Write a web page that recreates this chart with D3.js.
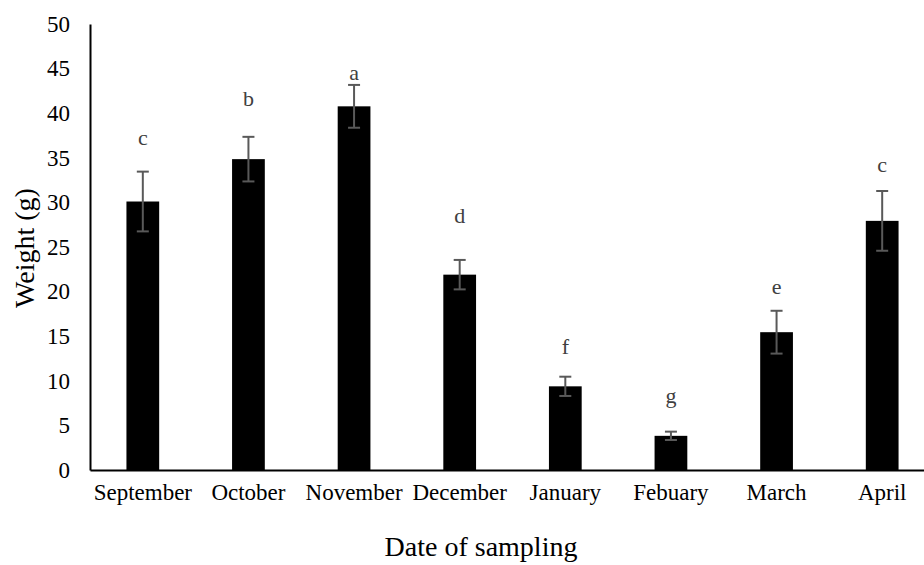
<!DOCTYPE html>
<html><head><meta charset="utf-8">
<script src="https://cdn.jsdelivr.net/npm/d3@7"></script>
<style>body{margin:0;background:#fff}svg{display:block}svg text{font-family:"Liberation Serif","Times New Roman",Times,serif !important}</style>
</head><body>
<svg id="c" width="924" height="565"></svg>
<script>
const months = ["September","October","November","December","January","Febuary","March","April"];
const weights = [30.1, 34.85, 40.77, 21.9, 9.38, 3.83, 15.45, 27.93];
const errors = [3.35, 2.5, 2.4, 1.65, 1.08, 0.47, 2.4, 3.35];
const letters = ["c","b","a","d","f","g","e","c"];
const letterAt = [37.2, 41.5, 44.5, 28.4, 13.7, 8.2, 20.5, 34.2];
const yTicks = [0,5,10,15,20,25,30,35,40,45,50];

(function(){
const svg = d3.select("#c");
const mLeft = 90, mRight = 935, mTop = 24, mBottom = 470;

const x = d3.scaleBand().domain(months).range([mLeft, mRight]).paddingInner(0.69).paddingOuter(0.345);
const y = d3.scaleLinear().domain([0, 50]).range([mBottom, mTop]);

// bars
svg.append("g").selectAll("rect").data(months).join("rect")
  .attr("x", d => x(d)).attr("width", x.bandwidth())
  .attr("y", (d,i) => y(weights[i])).attr("height", (d,i) => y(0) - y(weights[i]))
  .attr("fill", "#000");

// error bars
const eb = svg.append("g").attr("stroke", "#595959").attr("stroke-width", 2).attr("fill", "none");
months.forEach((m,i) => {
  const cx = x(m) + x.bandwidth()/2;
  const y1 = y(weights[i] + errors[i]), y2 = y(weights[i] - errors[i]);
  eb.append("line").attr("x1", cx).attr("x2", cx).attr("y1", y1).attr("y2", y2);
  eb.append("line").attr("x1", cx-6).attr("x2", cx+6).attr("y1", y1).attr("y2", y1);
  eb.append("line").attr("x1", cx-6).attr("x2", cx+6).attr("y1", y2).attr("y2", y2);
});

// letters
svg.append("g").selectAll("text").data(months).join("text")
  .attr("x", d => x(d) + x.bandwidth()/2)
  .attr("y", (d,i) => y(letterAt[i]))
  .attr("dy", "0.3em")
  .attr("text-anchor", "middle")
  .attr("font-size", 22).attr("fill", "#404040")
  .text((d,i) => letters[i]);

// y axis
const ya = svg.append("g").attr("transform", `translate(${mLeft},0)`)
  .call(d3.axisLeft(y).tickValues(yTicks).tickSize(0).tickPadding(20));
ya.attr("font-size", null).attr("font-family", null);
ya.select(".domain").attr("stroke", "#000").attr("stroke-width", 2);
ya.selectAll("text").attr("font-size", 23).attr("fill", "#000");

// x axis
const xa = svg.append("g").attr("transform", `translate(0,${mBottom})`)
  .call(d3.axisBottom(x).tickSize(0).tickPadding(14));
xa.attr("font-size", null).attr("font-family", null);
xa.select(".domain").attr("stroke", "#000").attr("stroke-width", 2);
xa.selectAll("text").attr("font-size", 23).attr("fill", "#000");

// titles
svg.append("text").attr("x", 481).attr("y", 556).attr("text-anchor", "middle")
  .attr("font-size", 28).attr("fill", "#000").text("Date of sampling");
svg.append("text").attr("transform", "translate(34,248) rotate(-90)").attr("text-anchor", "middle")
  .attr("font-size", 28).attr("fill", "#000").text("Weight (g)");
})();
</script>
</body></html>
